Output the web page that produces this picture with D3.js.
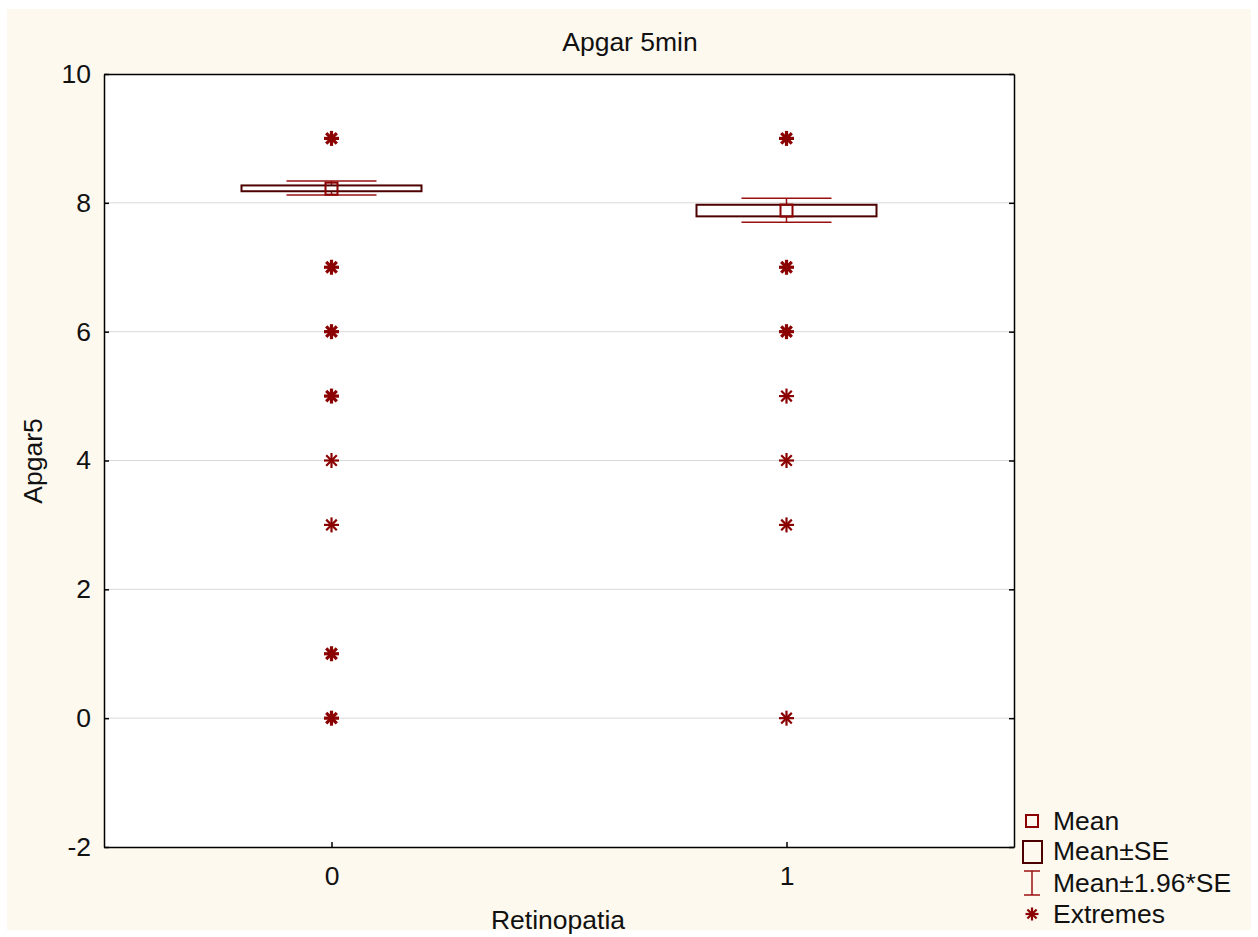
<!DOCTYPE html>
<html><head><meta charset="utf-8">
<script src="https://cdn.jsdelivr.net/npm/d3@7"></script>
<style>body{margin:0;background:#fff;} text{font-family:"Liberation Sans",Arial,sans-serif;fill:#111;}</style>
</head><body><svg id="c" width="1258" height="937"></svg>
<script>
const categories = ["0", "1"];
const means = [8.22, 7.88];
const seLow = [8.18, 7.79];
const seHigh = [8.27, 7.97];
const ciLow = [8.12, 7.70];
const ciHigh = [8.34, 8.07];
const extremes0 = [9, 7, 6, 5, 4, 3, 1, 0];
const extremes0Bold = [true, true, true, true, false, false, true, true];
const extremes1 = [9, 7, 6, 5, 4, 3, 0];
const extremes1Bold = [true, true, true, false, false, false, false];
const yTicks = [-2, 0, 2, 4, 6, 8, 10];
const legendLabels = ["Mean", "Mean±SE", "Mean±1.96*SE", "Extremes"];

const svg = d3.select("#c");
const L = 104, R = 1014, T = 74, B = 847;
const red = "#8b0000", dark = "#4d0000", whisk = "#9a1010";
const FS = "26.5px";

svg.append("rect").attr("x", 7).attr("y", 9).attr("width", 1244).attr("height", 921).attr("fill", "#fdf9ef");
svg.append("rect").attr("x", L).attr("y", T).attr("width", R - L).attr("height", B - T).attr("fill", "#fff");

const y = d3.scaleLinear().domain([-2, 10]).range([B, T]);
const x = d3.scalePoint().domain(categories).range([L, R]).padding(0.5);

svg.append("g").selectAll("line").data(yTicks.filter(d => d > -2 && d < 10)).join("line")
  .attr("x1", L).attr("x2", R).attr("y1", d => y(d)).attr("y2", d => y(d))
  .attr("stroke", "#d9d9d9").attr("stroke-width", 1);

const axL = svg.append("g").attr("transform", `translate(${L},0)`)
  .call(d3.axisLeft(y).tickValues(yTicks).tickSizeInner(-5).tickSizeOuter(0).tickPadding(13).tickFormat(d => String(d)));
const axR = svg.append("g").attr("transform", `translate(${R},0)`)
  .call(d3.axisRight(y).tickValues(yTicks).tickSizeInner(-5).tickSizeOuter(0).tickFormat(""));
const axB = svg.append("g").attr("transform", `translate(0,${B})`)
  .call(d3.axisBottom(x).tickSizeInner(-5).tickSizeOuter(0).tickPadding(19));
const axT = svg.append("g").attr("transform", `translate(0,${T})`)
  .call(d3.axisTop(x).tickSizeInner(0).tickSizeOuter(0).tickFormat(""));
[axL, axR, axB, axT].forEach(a => {
  a.attr("font-size", null);
  a.select(".domain").attr("stroke", "#000").attr("stroke-width", 1.5);
  a.selectAll(".tick line").attr("stroke", "#000").attr("stroke-width", 1.5);
  a.selectAll("text").style("font-size", FS).attr("fill", "#111").attr("font-family", "Liberation Sans, Arial, sans-serif");
});

const bw = 90, ww = 45, ms = 6;
const g = svg.append("g");
categories.forEach((c, i) => {
  const cx = x(c);
  g.append("line").attr("x1", cx).attr("x2", cx).attr("y1", y(ciHigh[i])).attr("y2", y(ciLow[i])).attr("stroke", whisk).attr("stroke-width", 1.5);
  [ciHigh[i], ciLow[i]].forEach(v => {
    g.append("line").attr("x1", cx - ww).attr("x2", cx + ww).attr("y1", y(v)).attr("y2", y(v)).attr("stroke", whisk).attr("stroke-width", 1.5);
  });
  g.append("rect").attr("x", cx - bw).attr("width", 2 * bw).attr("y", y(seHigh[i])).attr("height", y(seLow[i]) - y(seHigh[i]))
    .attr("fill", "#fff").attr("stroke", dark).attr("stroke-width", 2);
  g.append("rect").attr("x", cx - ms).attr("width", 2 * ms).attr("y", y(means[i]) - ms).attr("height", 2 * ms)
    .attr("fill", "none").attr("stroke", red).attr("stroke-width", 2);
});

function star(sel, cx, cy, r, bold) {
  const gg = sel.append("g").attr("transform", `translate(${cx},${cy})`);
  const sw = bold ? 3.2 : 2.2;
  const d = r * Math.SQRT1_2;
  [[-r, 0, r, 0], [0, -r, 0, r], [-d, -d, d, d], [-d, d, d, -d]].forEach(p => {
    gg.append("line").attr("x1", p[0]).attr("y1", p[1]).attr("x2", p[2]).attr("y2", p[3])
      .attr("stroke", red).attr("stroke-width", sw);
  });
  if (bold) gg.append("circle").attr("r", r * 0.45).attr("fill", red);
}
const ex = [[extremes0, extremes0Bold], [extremes1, extremes1Bold]];
categories.forEach((c, i) => {
  ex[i][0].forEach((v, j) => star(g, x(c), y(v), ex[i][1][j] ? 7.5 : 7.5, ex[i][1][j]));
});

svg.append("text").attr("x", 630).attr("y", 51).attr("text-anchor", "middle").style("font-size", FS).text("Apgar 5min");
svg.append("text").attr("x", 558).attr("y", 929).attr("text-anchor", "middle").style("font-size", FS).text("Retinopatia");
svg.append("text").attr("transform", "translate(42,461) rotate(-90)").attr("text-anchor", "middle").style("font-size", FS).text("Apgar5");

const lg = svg.append("g");
const ly = [821, 851, 883, 914];
const lx = 1032;
legendLabels.forEach((t, i) => {
  lg.append("text").attr("x", 1053).attr("y", ly[i] + 9).style("font-size", FS).text(t);
});
lg.append("rect").attr("x", lx - 6).attr("y", ly[0] - 6).attr("width", 12).attr("height", 12).attr("fill", "none").attr("stroke", red).attr("stroke-width", 2);
lg.append("rect").attr("x", lx - 9).attr("y", ly[1] - 10).attr("width", 19).attr("height", 22).attr("fill", "none").attr("stroke", dark).attr("stroke-width", 2);
lg.append("line").attr("x1", lx).attr("x2", lx).attr("y1", ly[2] - 12).attr("y2", ly[2] + 12).attr("stroke", whisk).attr("stroke-width", 1.5);
lg.append("line").attr("x1", lx - 8).attr("x2", lx + 8).attr("y1", ly[2] - 12).attr("y2", ly[2] - 12).attr("stroke", whisk).attr("stroke-width", 1.5);
lg.append("line").attr("x1", lx - 8).attr("x2", lx + 8).attr("y1", ly[2] + 12).attr("y2", ly[2] + 12).attr("stroke", whisk).attr("stroke-width", 1.5);
star(lg, lx, ly[3], 6.5, false);
</script></body></html>
